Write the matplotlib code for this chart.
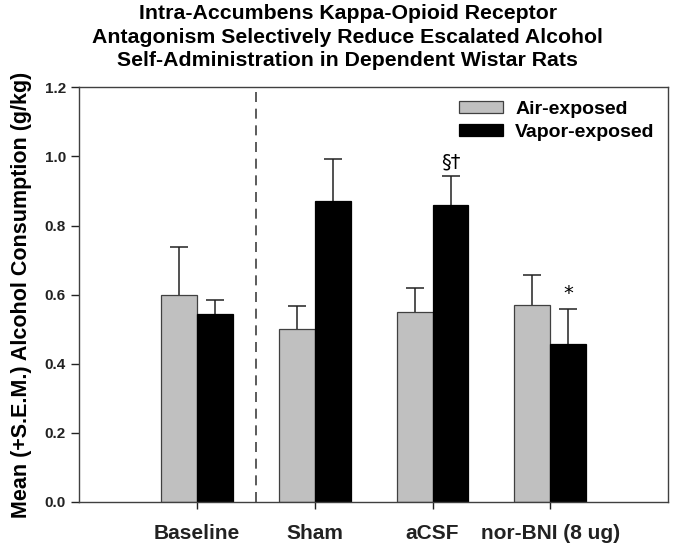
import numpy as np
import matplotlib
matplotlib.use("Agg")
import matplotlib.pyplot as plt

plt.rcParams['font.family'] = ['Liberation Sans', 'DejaVu Sans']
plt.rcParams['font.weight'] = 'bold'

# data
groups = ["Baseline", "Sham", "aCSF", "nor-BNI (8 ug)"]
air_mean = [0.60, 0.50, 0.55, 0.57]
air_sem = [0.137, 0.066, 0.068, 0.088]
vapor_mean = [0.545, 0.87, 0.86, 0.457]
vapor_sem = [0.040, 0.123, 0.082, 0.102]
marks = ["", "", "\u00a7\u2020", "*"]

fig = plt.figure(figsize=(6.75, 5.5), dpi=100)
ax = fig.add_axes([0.117, 0.088, 0.873, 0.753])

x = np.arange(1, len(groups) + 1)
w = 0.305
edge = "#404040"

ax.bar(x - w / 2, air_mean, w, color="#c0c0c0", edgecolor=edge, linewidth=0.9,
       label="Air-exposed", zorder=2)
ax.bar(x + w / 2, vapor_mean, w, color="black", edgecolor="black", linewidth=0.9,
       label="Vapor-exposed", zorder=2)
for xs, m, s in [(x - w / 2, air_mean, air_sem), (x + w / 2, vapor_mean, vapor_sem)]:
    eb = ax.errorbar(xs, m, yerr=[np.zeros(len(s)), s], fmt="none",
                     ecolor="#222222", elinewidth=1.1, capsize=6.5, capthick=1.1, zorder=1)
    eb[1][0].set_visible(False)  # no cap at the bar top

for xi, m, s, t in zip(x, vapor_mean, vapor_sem, marks):
    if t:
        ax.text(xi + w / 2, m + s + 0.015, t, ha="center", va="bottom",
                fontsize=14, fontweight="normal", family=['DejaVu Sans'])

ax.axvline(1.5, color="#404040", linestyle=(0, (6, 4)), linewidth=1.2)

ax.set_xlim(0, 5)
ax.set_ylim(0, 1.2)
ax.set_yticks(np.arange(0, 1.21, 0.2))
ax.set_yticklabels(["%.1f" % v for v in np.arange(0, 1.21, 0.2)], fontsize=11, fontweight="bold")
ax.set_xticks(x)
ax.set_xticklabels(groups, fontsize=15, fontweight="bold")
ax.tick_params(axis="y", direction="out", length=6, width=1, colors="#222222")
ax.tick_params(axis="x", direction="out", length=5, width=1, pad=11, colors="#222222")
for sp in ax.spines.values():
    sp.set_color("#404040")
    sp.set_linewidth(1.0)

ax.set_ylabel("Mean (+S.E.M.) Alcohol Consumption (g/kg)", fontsize=15.5, fontweight="bold", labelpad=9)

ax.legend(loc="upper right", frameon=False, fontsize=14, handlelength=2.3,
          handleheight=0.55, handletextpad=0.6, labelspacing=0.3,
          bbox_to_anchor=(1.0, 1.0), borderaxespad=0.3)

fig.text(0.515, 0.992, "Intra-Accumbens Kappa-Opioid Receptor\n"
         "Antagonism Selectively Reduce Escalated Alcohol\n"
         "Self-Administration in Dependent Wistar Rats",
         ha="center", va="top", fontsize=15.3, fontweight="bold", linespacing=1.3)

fig.savefig("out.png", dpi=100)
